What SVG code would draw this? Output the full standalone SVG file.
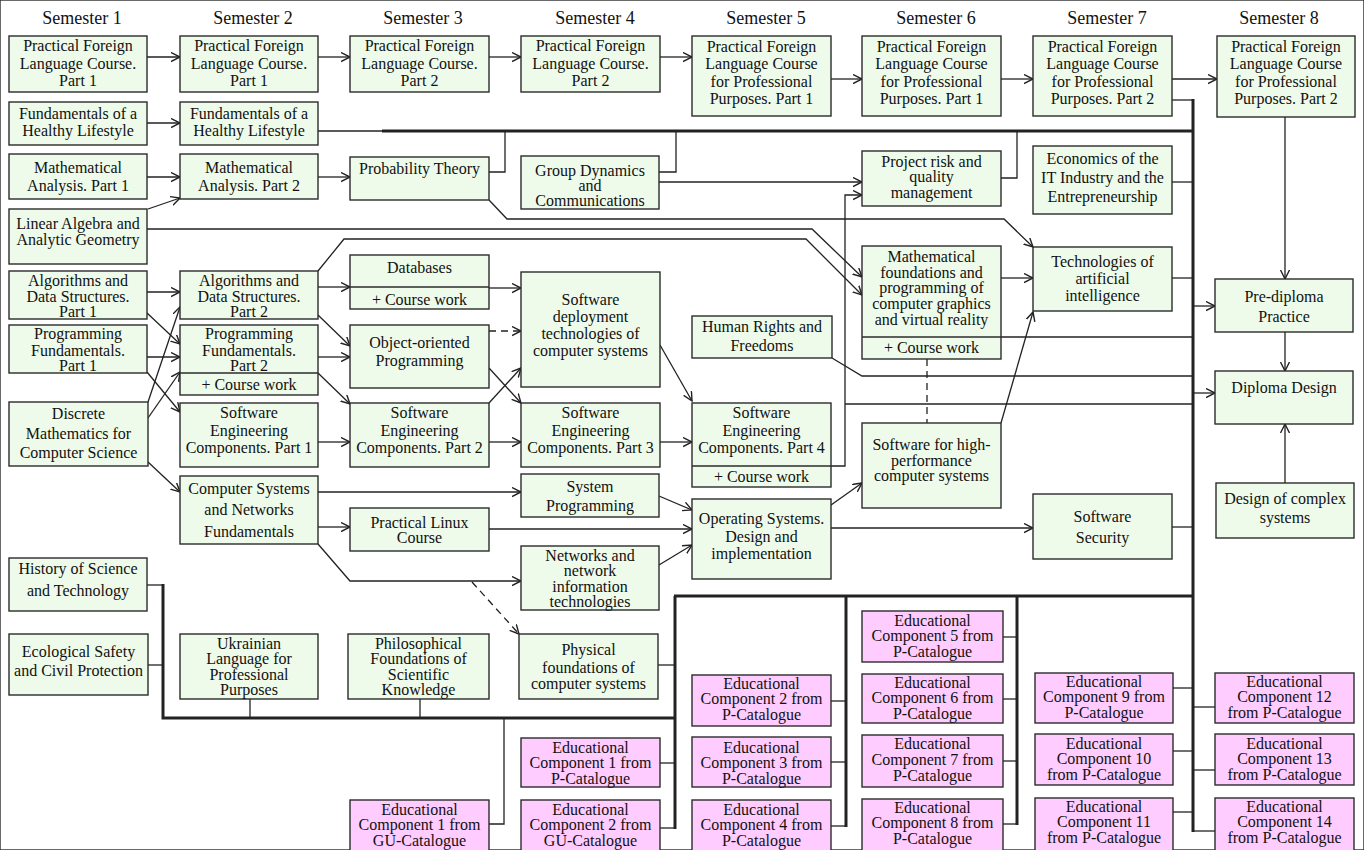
<svg xmlns="http://www.w3.org/2000/svg" width="1364" height="850" viewBox="0 0 1364 850">
<style>
rect{stroke:#2b2b2b;stroke-width:1.4}
.g{fill:#EEFBEB}
.p{fill:#FFCCFF}
.s{stroke:#2b2b2b;stroke-width:1.3}
text{font-family:"Liberation Serif","Times New Roman",serif;font-size:16px;fill:#111;text-anchor:middle}
.h{font-size:18px}
.c path{fill:none;stroke:#222;stroke-width:1.3}
.c path.t{stroke-width:3}
.c path.d{stroke-dasharray:7,5}
.c path.a{marker-end:url(#ar)}
</style>
<defs>
<marker id="ar" markerUnits="userSpaceOnUse" markerWidth="12" markerHeight="12" refX="9" refY="5" orient="auto">
<path d="M0,0.5 L9,5 L0,9.5" fill="none" stroke="#222" stroke-width="1.4"/>
</marker>
</defs>
<rect x="0" y="0" width="1364" height="850" fill="#fff" stroke="none"/>

<g id="headers">
<text class="h" x="82" y="24">Semester 1</text>
<text class="h" x="253" y="24">Semester 2</text>
<text class="h" x="423" y="24">Semester 3</text>
<text class="h" x="595" y="24">Semester 4</text>
<text class="h" x="766" y="24">Semester 5</text>
<text class="h" x="936" y="24">Semester 6</text>
<text class="h" x="1107" y="24">Semester 7</text>
<text class="h" x="1279" y="24">Semester 8</text>
</g>

<g class="c" id="connectors">
<path class="a" d="M147,57 H180"/>
<path class="a" d="M318,57 H350"/>
<path class="a" d="M489,57 H521"/>
<path class="a" d="M660,57 H692"/>
<path class="a" d="M831,79 H862"/>
<path class="a" d="M1001,79 H1033"/>
<path class="a" d="M1172,79 H1217"/>
<path class="a" d="M147,123 H180"/>
<path d="M318,131 H383"/>
<path class="t" d="M382,131 H1193"/>
<path d="M1172,100 H1193"/>
<path class="t" d="M1193,99 V832"/>
<path class="a" d="M147,177 H180"/>
<path class="a" d="M318,177 H350"/>
<path class="a" d="M148,209 L180,198"/>
<path d="M489,172 H505 V131"/>
<path d="M659,172 H676 V131"/>
<path class="a" d="M659,182 H862"/>
<path d="M1001,178 H1017 V131"/>
<path d="M1172,182 H1193"/>
<path class="a" d="M489,200 L507,219 H1004 L1033,247"/>
<path class="a" d="M147,229 H812 L862,277"/>
<path class="a" d="M318,271 L344,239 H806 L862,295"/>
<path class="a" d="M1001,278 H1033"/>
<path d="M1172,278 H1193"/>
<path class="a" d="M147,292 H180"/>
<path class="a" d="M147,313 L180,344"/>
<path class="a" d="M147,357 H180"/>
<path class="a" d="M147,372 L180,412"/>
<path class="a" d="M148,402 L180,307"/>
<path class="a" d="M148,418 L180,372"/>
<path class="a" d="M148,462 L180,492"/>
<path class="a" d="M318,287 H350"/>
<path class="a" d="M318,315 L350,346"/>
<path class="a" d="M318,357 H350"/>
<path class="a" d="M318,373 L350,404"/>
<path class="a" d="M318,442 H350"/>
<path class="a" d="M318,492 H521"/>
<path class="a" d="M318,527 H350"/>
<path class="a" d="M318,544 L350,581 H521"/>
<path class="a d" d="M472,582 L519,634"/>
<path class="a" d="M489,288 H521"/>
<path class="a d" d="M489,331 H521"/>
<path class="a" d="M489,368 L521,403"/>
<path class="a" d="M489,403 L521,368"/>
<path class="a" d="M489,442 H521"/>
<path class="a" d="M489,529 H692"/>
<path class="a" d="M659,496 L692,510"/>
<path class="a" d="M659,565 L692,545"/>
<path class="a" d="M660,345 L692,401"/>
<path class="a" d="M660,442 H692"/>
<path class="a" d="M831,466 H845 V195 H862"/>
<path d="M845,404 H1193"/>
<path d="M832,358 L862,376 H1193"/>
<path d="M1001,337 H1193"/>
<path class="d" d="M927,359 V423"/>
<path class="a" d="M831,505 L862,483"/>
<path class="a" d="M1001,423 L1033,312"/>
<path class="a" d="M831,528 H1033"/>
<path d="M1172,527 H1193"/>
<path class="a" d="M1193,306 H1215"/>
<path class="a" d="M1193,393 H1215"/>
<path class="a" d="M1285,117 V279"/>
<path class="a" d="M1285,332 V371"/>
<path class="a" d="M1285,483 V424"/>
<path class="t" d="M674,596 H1193"/>
<path class="t" d="M675,596 V829"/>
<path class="t" d="M846,596 V827"/>
<path class="t" d="M1017,596 V825"/>
<path class="t" d="M163,584 V718 H676"/>
<path d="M147,585 H163"/>
<path d="M148,665 H163"/>
<path d="M250,699 V718"/>
<path d="M420,699 V718"/>
<path d="M489,824 H504 V718"/>
<path d="M658,665 H675"/>
<path d="M660,763 H675"/>
<path d="M660,828 H675"/>
<path d="M831,701 H846"/>
<path d="M831,762 H846"/>
<path d="M831,826 H846"/>
<path d="M1003,637 H1017"/>
<path d="M1003,699 H1017"/>
<path d="M1003,761 H1017"/>
<path d="M1003,824 H1017"/>
<path d="M1173,688 H1193"/>
<path d="M1173,751 H1193"/>
<path d="M1173,812 H1193"/>
<path d="M1193,707 H1215"/>
<path d="M1193,770 H1215"/>
<path d="M1193,831 H1215"/>
</g>

<!-- Column 1 -->
<g id="pfl-s1"><rect class="g" x="9" y="36" width="138" height="56"/><text><tspan x="78" y="51">Practical Foreign</tspan><tspan x="78" y="69">Language Course.</tspan><tspan x="78" y="86">Part 1</tspan></text></g>
<g id="hls-s1"><rect class="g" x="9" y="102" width="138" height="43"/><text><tspan x="78" y="118.5">Fundamentals of a</tspan><tspan x="78" y="135.5">Healthy Lifestyle</tspan></text></g>
<g id="ma1"><rect class="g" x="9" y="154" width="138" height="45"/><text><tspan x="78" y="172.5">Mathematical</tspan><tspan x="78" y="190.5">Analysis. Part 1</tspan></text></g>
<g id="linalg"><rect class="g" x="9" y="209" width="138" height="55"/><text><tspan x="78" y="228.5">Linear Algebra and</tspan><tspan x="78" y="244.5">Analytic Geometry</tspan></text></g>
<g id="ads1"><rect class="g" x="9" y="271" width="138" height="48"/><text><tspan x="78" y="285.5">Algorithms and</tspan><tspan x="78" y="301.5">Data Structures.</tspan><tspan x="78" y="316.5">Part 1</tspan></text></g>
<g id="pf1"><rect class="g" x="9" y="325" width="138" height="48"/><text><tspan x="78" y="338.5">Programming</tspan><tspan x="78" y="355.5">Fundamentals.</tspan><tspan x="78" y="370.5">Part 1</tspan></text></g>
<g id="dm"><rect class="g" x="9" y="402" width="139" height="64"/><text><tspan x="78.5" y="418.5">Discrete</tspan><tspan x="78.5" y="438.5">Mathematics for</tspan><tspan x="78.5" y="457.5">Computer Science</tspan></text></g>
<g id="hist"><rect class="g" x="9" y="558" width="138" height="53"/><text><tspan x="78" y="573.5">History of Science</tspan><tspan x="78" y="595.5">and Technology</tspan></text></g>
<g id="eco"><rect class="g" x="9" y="634" width="139" height="61"/><text><tspan x="78.5" y="656.5">Ecological Safety</tspan><tspan x="78.5" y="675.5">and Civil Protection</tspan></text></g>

<!-- Column 2 -->
<g id="pfl-s2"><rect class="g" x="180" y="36" width="138" height="56"/><text><tspan x="249" y="51">Practical Foreign</tspan><tspan x="249" y="69">Language Course.</tspan><tspan x="249" y="86">Part 1</tspan></text></g>
<g id="hls-s2"><rect class="g" x="180" y="102" width="138" height="43"/><text><tspan x="249" y="118.5">Fundamentals of a</tspan><tspan x="249" y="135.5">Healthy Lifestyle</tspan></text></g>
<g id="ma2"><rect class="g" x="180" y="154" width="138" height="45"/><text><tspan x="249" y="172.5">Mathematical</tspan><tspan x="249" y="190.5">Analysis. Part 2</tspan></text></g>
<g id="ads2"><rect class="g" x="180" y="271" width="138" height="48"/><text><tspan x="249" y="285.5">Algorithms and</tspan><tspan x="249" y="301.5">Data Structures.</tspan><tspan x="249" y="316.5">Part 2</tspan></text></g>
<g id="pf2"><rect class="g" x="180" y="325" width="138" height="70"/><path class="s" d="M180,373 H318"/><text><tspan x="249" y="338.5">Programming</tspan><tspan x="249" y="355.5">Fundamentals.</tspan><tspan x="249" y="370.5">Part 2</tspan><tspan x="249" y="389.5">+ Course work</tspan></text></g>
<g id="sec1"><rect class="g" x="180" y="403" width="138" height="64"/><text><tspan x="249" y="417.5">Software</tspan><tspan x="249" y="435.5">Engineering</tspan><tspan x="249" y="452.5">Components. Part 1</tspan></text></g>
<g id="csnf"><rect class="g" x="180" y="476" width="138" height="68"/><text><tspan x="249" y="493.5">Computer Systems</tspan><tspan x="249" y="514.5">and Networks</tspan><tspan x="249" y="536.5">Fundamentals</tspan></text></g>
<g id="ukr"><rect class="g" x="180" y="634" width="138" height="65"/><text><tspan x="249" y="648.5">Ukrainian</tspan><tspan x="249" y="663.5">Language for</tspan><tspan x="249" y="679.5">Professional</tspan><tspan x="249" y="694.5">Purposes</tspan></text></g>

<!-- Column 3 -->
<g id="pfl-s3"><rect class="g" x="350" y="36" width="139" height="56"/><text><tspan x="419.5" y="51">Practical Foreign</tspan><tspan x="419.5" y="69">Language Course.</tspan><tspan x="419.5" y="86">Part 2</tspan></text></g>
<g id="prob"><rect class="g" x="350" y="157" width="139" height="43"/><text x="419.5" y="173.5">Probability Theory</text></g>
<g id="db"><rect class="g" x="350" y="255" width="139" height="54"/><path class="s" d="M350,287 H489"/><text><tspan x="419.5" y="272.5">Databases</tspan><tspan x="419.5" y="304.5">+ Course work</tspan></text></g>
<g id="oop"><rect class="g" x="350" y="325" width="139" height="63"/><text><tspan x="419.5" y="347.5">Object-oriented</tspan><tspan x="419.5" y="365.5">Programming</tspan></text></g>
<g id="sec2"><rect class="g" x="350" y="403" width="139" height="64"/><text><tspan x="419.5" y="417.5">Software</tspan><tspan x="419.5" y="435.5">Engineering</tspan><tspan x="419.5" y="452.5">Components. Part 2</tspan></text></g>
<g id="linux"><rect class="g" x="350" y="508" width="139" height="43"/><text><tspan x="419.5" y="527.5">Practical Linux</tspan><tspan x="419.5" y="542.5">Course</tspan></text></g>
<g id="phil"><rect class="g" x="348" y="634" width="141" height="65"/><text><tspan x="418.5" y="648.5">Philosophical</tspan><tspan x="418.5" y="663.5">Foundations of</tspan><tspan x="418.5" y="679.5">Scientific</tspan><tspan x="418.5" y="694.5">Knowledge</tspan></text></g>
<g id="ec1-gu"><rect class="p" x="350" y="800" width="139" height="53"/><text><tspan x="419.5" y="814.5">Educational</tspan><tspan x="419.5" y="830">Component 1 from</tspan><tspan x="419.5" y="845.5">GU-Catalogue</tspan></text></g>

<!-- Column 4 -->
<g id="pfl-s4"><rect class="g" x="521" y="36" width="139" height="56"/><text><tspan x="590.5" y="51">Practical Foreign</tspan><tspan x="590.5" y="69">Language Course.</tspan><tspan x="590.5" y="86">Part 2</tspan></text></g>
<g id="gdc"><rect class="g" x="521" y="156" width="138" height="53"/><text><tspan x="590" y="175.5">Group Dynamics</tspan><tspan x="590" y="190.5">and</tspan><tspan x="590" y="206">Communications</tspan></text></g>
<g id="sdt"><rect class="g" x="521" y="272" width="139" height="115"/><text><tspan x="590.5" y="304.5">Software</tspan><tspan x="590.5" y="321.5">deployment</tspan><tspan x="590.5" y="338.5">technologies of</tspan><tspan x="590.5" y="355.5">computer systems</tspan></text></g>
<g id="sec3"><rect class="g" x="521" y="403" width="139" height="64"/><text><tspan x="590.5" y="417.5">Software</tspan><tspan x="590.5" y="435.5">Engineering</tspan><tspan x="590.5" y="452.5">Components. Part 3</tspan></text></g>
<g id="sysprog"><rect class="g" x="521" y="474" width="138" height="43"/><text><tspan x="590" y="491.5">System</tspan><tspan x="590" y="510.5">Programming</tspan></text></g>
<g id="nets"><rect class="g" x="521" y="546" width="138" height="64"/><text><tspan x="590" y="560.5">Networks and</tspan><tspan x="590" y="576">network</tspan><tspan x="590" y="591.5">information</tspan><tspan x="590" y="607">technologies</tspan></text></g>
<g id="phys"><rect class="g" x="519" y="634" width="139" height="65"/><text><tspan x="588.5" y="654.5">Physical</tspan><tspan x="588.5" y="672.5">foundations of</tspan><tspan x="588.5" y="688.5">computer systems</tspan></text></g>
<g id="ec1-p"><rect class="p" x="521" y="738" width="139" height="49"/><text><tspan x="590.5" y="752.5">Educational</tspan><tspan x="590.5" y="768">Component 1 from</tspan><tspan x="590.5" y="783.5">P-Catalogue</tspan></text></g>
<g id="ec2-gu"><rect class="p" x="521" y="800" width="139" height="53"/><text><tspan x="590.5" y="814.5">Educational</tspan><tspan x="590.5" y="830">Component 2 from</tspan><tspan x="590.5" y="845.5">GU-Catalogue</tspan></text></g>

<!-- Column 5 -->
<g id="pflp-s5"><rect class="g" x="692" y="36" width="139" height="80"/><text><tspan x="761.5" y="51.5">Practical Foreign</tspan><tspan x="761.5" y="68.5">Language Course</tspan><tspan x="761.5" y="86.5">for Professional</tspan><tspan x="761.5" y="103.5">Purposes. Part 1</tspan></text></g>
<g id="hrf"><rect class="g" x="692" y="316" width="140" height="42"/><text><tspan x="762" y="331.5">Human Rights and</tspan><tspan x="762" y="350.5">Freedoms</tspan></text></g>
<g id="sec4"><rect class="g" x="692" y="403" width="139" height="84"/><path class="s" d="M692,466 H831"/><text><tspan x="761.5" y="417.5">Software</tspan><tspan x="761.5" y="435.5">Engineering</tspan><tspan x="761.5" y="452.5">Components. Part 4</tspan><tspan x="761.5" y="481.5">+ Course work</tspan></text></g>
<g id="os"><rect class="g" x="692" y="499" width="139" height="80"/><text><tspan x="761.5" y="523.5">Operating Systems.</tspan><tspan x="761.5" y="542">Design and</tspan><tspan x="761.5" y="559">implementation</tspan></text></g>
<g id="ec2-p"><rect class="p" x="692" y="675" width="139" height="51"/><text><tspan x="761.5" y="688.5">Educational</tspan><tspan x="761.5" y="704">Component 2 from</tspan><tspan x="761.5" y="719.5">P-Catalogue</tspan></text></g>
<g id="ec3-p"><rect class="p" x="692" y="737" width="139" height="50"/><text><tspan x="761.5" y="752.5">Educational</tspan><tspan x="761.5" y="768">Component 3 from</tspan><tspan x="761.5" y="783.5">P-Catalogue</tspan></text></g>
<g id="ec4-p"><rect class="p" x="692" y="800" width="139" height="53"/><text><tspan x="761.5" y="814.5">Educational</tspan><tspan x="761.5" y="830">Component 4 from</tspan><tspan x="761.5" y="845.5">P-Catalogue</tspan></text></g>

<!-- Column 6 -->
<g id="pflp-s6"><rect class="g" x="862" y="36" width="139" height="80"/><text><tspan x="931.5" y="51.5">Practical Foreign</tspan><tspan x="931.5" y="68.5">Language Course</tspan><tspan x="931.5" y="86.5">for Professional</tspan><tspan x="931.5" y="103.5">Purposes. Part 1</tspan></text></g>
<g id="prqm"><rect class="g" x="862" y="151" width="139" height="55"/><text><tspan x="931.5" y="166.5">Project risk and</tspan><tspan x="931.5" y="182">quality</tspan><tspan x="931.5" y="197.5">management</tspan></text></g>
<g id="mfcg"><rect class="g" x="862" y="246" width="139" height="113"/><path class="s" d="M862,337 H1001"/><text><tspan x="931.5" y="262">Mathematical</tspan><tspan x="931.5" y="277.5">foundations and</tspan><tspan x="931.5" y="293">programming of</tspan><tspan x="931.5" y="308.5">computer graphics</tspan><tspan x="931.5" y="325">and virtual reality</tspan><tspan x="931.5" y="352.5">+ Course work</tspan></text></g>
<g id="shpc"><rect class="g" x="862" y="423" width="139" height="85"/><text><tspan x="931.5" y="450">Software for high-</tspan><tspan x="931.5" y="465.5">performance</tspan><tspan x="931.5" y="481">computer systems</tspan></text></g>
<g id="ec5-p"><rect class="p" x="862" y="611" width="141" height="51"/><text><tspan x="932.5" y="625.5">Educational</tspan><tspan x="932.5" y="641">Component 5 from</tspan><tspan x="932.5" y="656.5">P-Catalogue</tspan></text></g>
<g id="ec6-p"><rect class="p" x="862" y="674" width="141" height="49"/><text><tspan x="932.5" y="687.5">Educational</tspan><tspan x="932.5" y="703">Component 6 from</tspan><tspan x="932.5" y="718.5">P-Catalogue</tspan></text></g>
<g id="ec7-p"><rect class="p" x="862" y="735" width="141" height="52"/><text><tspan x="932.5" y="749">Educational</tspan><tspan x="932.5" y="765">Component 7 from</tspan><tspan x="932.5" y="781">P-Catalogue</tspan></text></g>
<g id="ec8-p"><rect class="p" x="862" y="799" width="141" height="54"/><text><tspan x="932.5" y="812.5">Educational</tspan><tspan x="932.5" y="828">Component 8 from</tspan><tspan x="932.5" y="843.5">P-Catalogue</tspan></text></g>

<!-- Column 7 -->
<g id="pflp-s7"><rect class="g" x="1033" y="36" width="139" height="80"/><text><tspan x="1102.5" y="51.5">Practical Foreign</tspan><tspan x="1102.5" y="68.5">Language Course</tspan><tspan x="1102.5" y="86.5">for Professional</tspan><tspan x="1102.5" y="103.5">Purposes. Part 2</tspan></text></g>
<g id="econ"><rect class="g" x="1033" y="146" width="139" height="68"/><text><tspan x="1102.5" y="163.5">Economics of the</tspan><tspan x="1102.5" y="182.5">IT Industry and the</tspan><tspan x="1102.5" y="201.5">Entrepreneurship</tspan></text></g>
<g id="ai"><rect class="g" x="1033" y="247" width="139" height="64"/><text><tspan x="1102.5" y="266.5">Technologies of</tspan><tspan x="1102.5" y="283.5">artificial</tspan><tspan x="1102.5" y="300.5">intelligence</tspan></text></g>
<g id="secur"><rect class="g" x="1033" y="494" width="139" height="65"/><text><tspan x="1102.5" y="521.5">Software</tspan><tspan x="1102.5" y="542.5">Security</tspan></text></g>
<g id="ec9-p"><rect class="p" x="1035" y="673" width="138" height="50"/><text><tspan x="1104" y="686.5">Educational</tspan><tspan x="1104" y="702">Component 9 from</tspan><tspan x="1104" y="717.5">P-Catalogue</tspan></text></g>
<g id="ec10-p"><rect class="p" x="1035" y="734" width="138" height="51"/><text><tspan x="1104" y="748.5">Educational</tspan><tspan x="1104" y="764">Component 10</tspan><tspan x="1104" y="779.5">from P-Catalogue</tspan></text></g>
<g id="ec11-p"><rect class="p" x="1035" y="798" width="138" height="55"/><text><tspan x="1104" y="811.5">Educational</tspan><tspan x="1104" y="827">Component 11</tspan><tspan x="1104" y="842.5">from P-Catalogue</tspan></text></g>

<!-- Column 8 -->
<g id="pflp-s8"><rect class="g" x="1217" y="36" width="138" height="81"/><text><tspan x="1286" y="51.5">Practical Foreign</tspan><tspan x="1286" y="68.5">Language Course</tspan><tspan x="1286" y="86.5">for Professional</tspan><tspan x="1286" y="103.5">Purposes. Part 2</tspan></text></g>
<g id="prediploma"><rect class="g" x="1215" y="279" width="138" height="53"/><text><tspan x="1284" y="301.5">Pre-diploma</tspan><tspan x="1284" y="321.5">Practice</tspan></text></g>
<g id="diploma"><rect class="g" x="1215" y="371" width="138" height="53"/><text x="1284" y="392.5">Diploma Design</text></g>
<g id="dcs"><rect class="g" x="1216" y="483" width="138" height="55"/><text><tspan x="1285" y="503.5">Design of complex</tspan><tspan x="1285" y="522.5">systems</tspan></text></g>
<g id="ec12-p"><rect class="p" x="1215" y="673" width="139" height="50"/><text><tspan x="1284.5" y="686.5">Educational</tspan><tspan x="1284.5" y="702">Component 12</tspan><tspan x="1284.5" y="717.5">from P-Catalogue</tspan></text></g>
<g id="ec13-p"><rect class="p" x="1215" y="734" width="139" height="51"/><text><tspan x="1284.5" y="748.5">Educational</tspan><tspan x="1284.5" y="764">Component 13</tspan><tspan x="1284.5" y="779.5">from P-Catalogue</tspan></text></g>
<g id="ec14-p"><rect class="p" x="1215" y="798" width="139" height="55"/><text><tspan x="1284.5" y="811.5">Educational</tspan><tspan x="1284.5" y="827">Component 14</tspan><tspan x="1284.5" y="842.5">from P-Catalogue</tspan></text></g>
</svg>
